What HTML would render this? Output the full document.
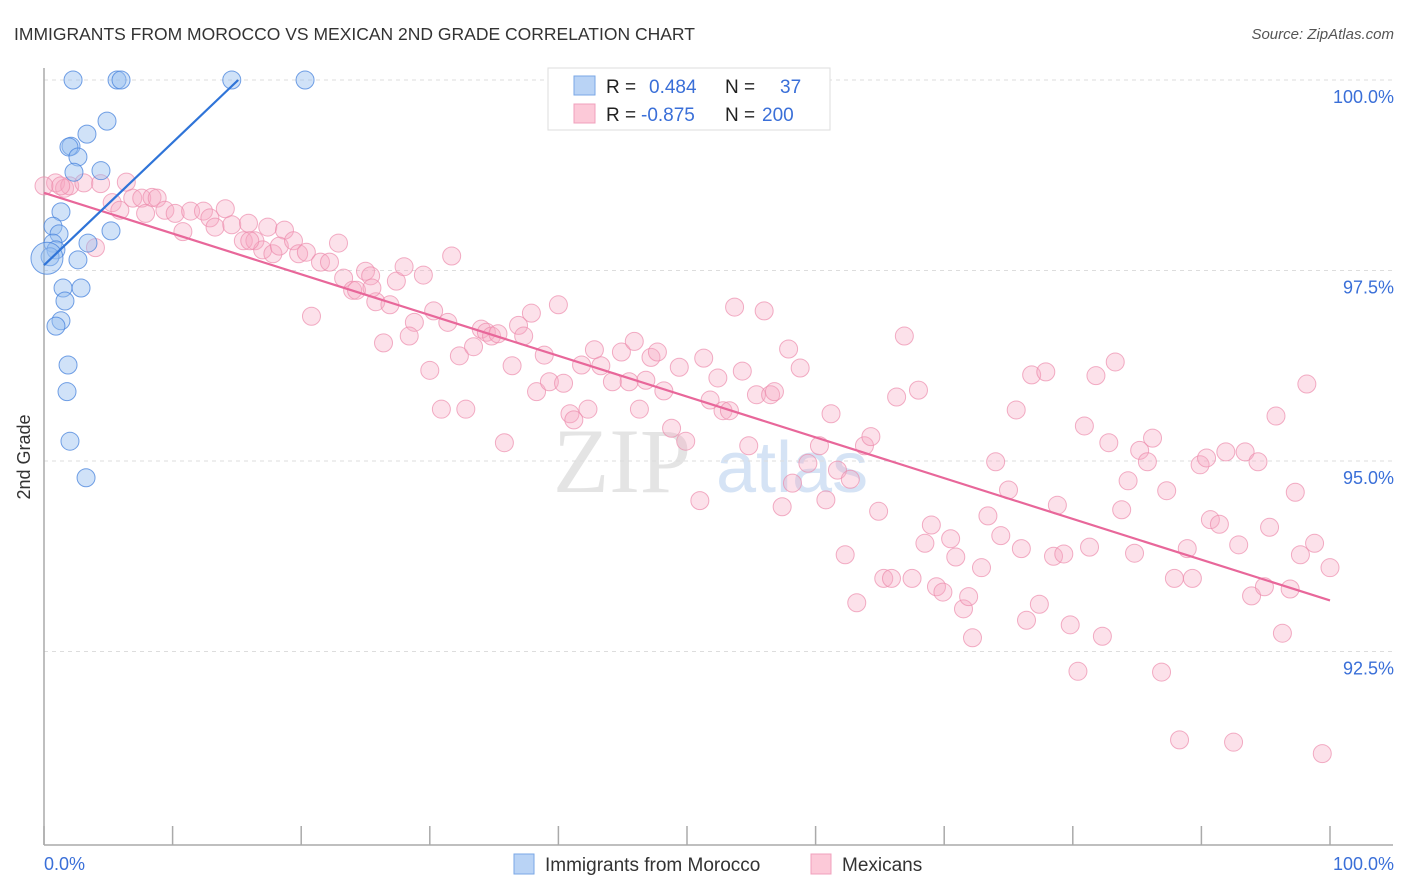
<!DOCTYPE html>
<html><head><meta charset="utf-8"><style>
body{margin:0;background:#fff;font-family:"Liberation Sans",sans-serif}
svg{display:block}
</style></head><body>
<svg id="chart" width="1406" height="892" xmlns="http://www.w3.org/2000/svg">
<text x="14" y="40" font-size="17.5" fill="#333">IMMIGRANTS FROM MOROCCO VS MEXICAN 2ND GRADE CORRELATION CHART</text>
<text x="1394" y="39" font-size="15" fill="#555" font-style="italic" text-anchor="end">Source: ZipAtlas.com</text>
<g><text x="553" y="492" font-size="92" fill="#e4e4e4" font-family="Liberation Serif,serif">ZIP</text><text x="716" y="492" font-size="72" fill="#d5e3f5">atlas</text></g>
<g id="grid"></g><g id="axes"></g><g id="pts"></g><g id="trend"></g>
<text x="30" y="457" font-size="18" fill="#333" text-anchor="middle" transform="rotate(-90 30 457)">2nd Grade</text>
<text x="44" y="870" font-size="18" fill="#3a6fd8">0.0%</text>
<text x="1394" y="870" font-size="18" fill="#3a6fd8" text-anchor="end">100.0%</text>
<g>
<rect x="548" y="68" width="282" height="62" fill="#fff" stroke="#ddd"/>
<rect x="574" y="76" width="21" height="19" fill="#b9d3f5" stroke="#7aa7e6"/>
<rect x="574" y="104" width="21" height="19" fill="#fcc9d8" stroke="#f0a0bc"/>
<text x="606" y="93" font-size="19" fill="#222">R = <tspan fill="#3a6fd8" x="649">0.484</tspan></text>
<text x="725" y="93" font-size="19" fill="#222">N = <tspan fill="#3a6fd8" x="780">37</tspan></text>
<text x="606" y="121" font-size="19" fill="#222">R = <tspan fill="#3a6fd8" x="641">-0.875</tspan></text>
<text x="725" y="121" font-size="19" fill="#222">N = <tspan fill="#3a6fd8" x="762">200</tspan></text>
</g>
<g>
<rect x="514" y="854" width="20" height="20" fill="#b9d3f5" stroke="#7aa7e6"/>
<text x="545" y="871" font-size="19" fill="#333">Immigrants from Morocco</text>
<rect x="811" y="854" width="20" height="20" fill="#fcc9d8" stroke="#f0a0bc"/>
<text x="842" y="871" font-size="19" fill="#333">Mexicans</text>
</g>
</svg>
<script>
const yTicks=[100,97.5,95,92.5];
const yTickLabels=["100.0%","97.5%","95.0%","92.5%"];
const xTicks=[0,10,20,30,40,50,60,70,80,90,100];
const moroccoX=[2.26,5.68,5.99,14.6,20.3,4.9,3.34,2.1,1.94,2.64,4.43,2.33,5.21,1.32,0.7,1.17,0.7,3.42,0.93,0.47,2.64,0.23,1.48,2.88,1.63,1.32,0.93,1.87,1.79,2.02,3.27];
const moroccoY=[100,100,100,100,100,99.46,99.29,99.13,99.12,98.99,98.81,98.79,98.02,98.27,98.08,97.98,97.86,97.86,97.77,97.68,97.64,97.66,97.27,97.27,97.10,96.84,96.77,96.26,95.91,95.26,94.78];
const mexX=[0.9,1.6,2.0,3.1,4.4,6.4,5.3,5.9,6.9,7.6,8.4,8.8,7.9,9.4,10.2,10.8,11.4,12.4,12.9,13.3,14.1,14.6,15.5,15.9,16.4,17.0,17.8,17.4,18.7,18.3,19.4,19.8,20.4,21.5,22.2,22.9,23.3,24.0,24.3,25.0,25.4,25.8,26.4,26.9,27.4,28.0,28.8,28.4,29.5,30.0,30.3,30.9,31.4,31.7,32.3,32.8,33.4,34.0,34.4,34.8,35.3,35.8,36.4,36.9,37.3,37.9,38.3,38.9,39.3,40.0,40.4,40.9,41.2,41.8,42.3,42.8,43.3,44.2,44.9,45.5,45.9,46.3,46.8,47.2,47.7,48.2,48.8,49.4,49.9,51.0,51.3,51.8,52.4,52.8,53.3,53.7,54.3,54.8,55.4,56.0,56.5,56.8,57.4,57.9,58.2,58.8,59.4,60.3,60.8,61.2,61.7,62.3,62.7,63.2,63.8,64.3,64.9,65.3,65.9,66.3,66.9,67.5,68.0,68.5,69.0,69.4,69.9,70.5,70.9,71.5,71.9,72.2,72.9,73.4,74.0,74.4,75.0,75.6,76.0,76.4,76.8,77.4,77.9,78.5,78.8,79.3,79.8,80.4,80.9,81.3,81.8,82.3,82.8,83.3,83.8,84.3,84.8,85.2,85.8,86.2,86.9,87.3,87.9,88.3,88.9,89.3,89.9,90.4,90.7,91.4,91.9,92.5,92.9,93.4,93.9,94.4,94.9,95.3,95.8,96.3,96.9,97.3,97.7,98.2,98.8,99.4,100.0,0.0,1.3,4.0,20.8,25.5,16.0];
const mexY=[98.65,98.58,98.61,98.65,98.64,98.66,98.39,98.29,98.45,98.45,98.46,98.45,98.25,98.29,98.25,98.01,98.28,98.28,98.19,98.07,98.31,98.10,97.89,98.12,97.89,97.77,97.72,98.07,98.03,97.82,97.89,97.72,97.74,97.61,97.61,97.86,97.40,97.24,97.24,97.49,97.43,97.09,96.55,97.05,97.36,97.55,96.82,96.64,97.44,96.19,96.97,95.68,96.82,97.69,96.38,95.68,96.50,96.73,96.69,96.64,96.67,95.24,96.25,96.78,96.64,96.94,95.91,96.39,96.04,97.05,96.02,95.62,95.54,96.26,95.68,96.46,96.25,96.04,96.43,96.04,96.57,95.68,96.06,96.36,96.43,95.92,95.43,96.23,95.26,94.48,96.35,95.80,96.09,95.66,95.66,97.02,96.18,95.20,95.87,96.97,95.87,95.91,94.40,96.47,94.71,96.22,94.97,95.20,94.49,95.62,94.88,93.77,94.76,93.14,95.20,95.32,94.34,93.46,93.46,95.84,96.64,93.46,95.93,93.92,94.16,93.35,93.28,93.98,93.74,93.06,93.22,92.68,93.60,94.28,94.99,94.02,94.62,95.67,93.85,92.91,96.13,93.12,96.17,93.75,94.42,93.78,92.85,92.24,95.46,93.87,96.12,92.70,95.24,96.30,94.36,94.74,93.79,95.14,94.99,95.30,92.23,94.61,93.46,91.34,93.85,93.46,94.95,95.04,94.23,94.17,95.12,91.31,93.90,95.12,93.23,94.99,93.35,94.13,95.59,92.74,93.32,94.59,93.77,96.01,93.92,91.16,93.60,98.61,98.61,97.80,96.90,97.27,97.89];
const moroccoTrendX=[0,15.1];
const moroccoTrendY=[97.57,100];
const mexTrendX=[0,100];
const mexTrendY=[98.52,93.17];

const NS="http://www.w3.org/2000/svg";
const X0=44,X1=1330,YT=80,PXPER=76.2;
function sx(v){return X0+(X1-X0)*v/100;}
function sy(v){return YT+(100-v)*PXPER;}
function mk(tag,attrs,parent){const e=document.createElementNS(NS,tag);for(const k in attrs)e.setAttribute(k,attrs[k]);document.getElementById(parent).appendChild(e);return e;}

yTicks.forEach((t,i)=>{
  const l=mk('line',{x1:X0,x2:1393,y1:sy(t),y2:sy(t),stroke:'#ddd','stroke-dasharray':'4 4'},'grid');
  
  
  const tx=mk('text',{x:1394,y:sy(t)+23,'font-size':18,fill:'#3a6fd8','text-anchor':'end'},'grid');
  tx.textContent=yTickLabels[i];
  
  
});
const ya=mk('line',{x1:X0,x2:X0,y1:68,y2:845,stroke:'#aaa','stroke-width':1.5},'axes');


const xa=mk('line',{x1:X0,x2:1393,y1:845,y2:845,stroke:'#aaa','stroke-width':1.5},'axes');


xTicks.forEach(t=>{
  const l=mk('line',{x1:sx(t),x2:sx(t),y1:826,y2:845,stroke:'#aaa','stroke-width':1.5},'axes');
  
  
});
mexX.forEach((x,i)=>{
  const c=mk('circle',{cx:sx(x),cy:sy(mexY[i]),r:9,fill:'rgba(246,170,196,0.35)',stroke:'rgba(236,140,172,0.7)','stroke-width':1},'pts');
  
  
});
moroccoX.forEach((x,i)=>{
  const c=mk('circle',{cx:sx(x),cy:sy(moroccoY[i]),r:(x<0.3&&moroccoY[i]<97.7)?16:9,fill:'rgba(150,190,240,0.45)',stroke:'rgba(70,130,220,0.75)','stroke-width':1},'pts');
  
  
});
const t1=mk('line',{x1:sx(mexTrendX[0]),y1:sy(mexTrendY[0]),x2:sx(mexTrendX[1]),y2:sy(mexTrendY[1]),stroke:'#e8679a','stroke-width':2.2},'trend');


const t2=mk('line',{x1:sx(moroccoTrendX[0]),y1:sy(moroccoTrendY[0]),x2:sx(moroccoTrendX[1]),y2:sy(moroccoTrendY[1]),stroke:'#2f74d8','stroke-width':2.2},'trend');


</script>
</body></html>
